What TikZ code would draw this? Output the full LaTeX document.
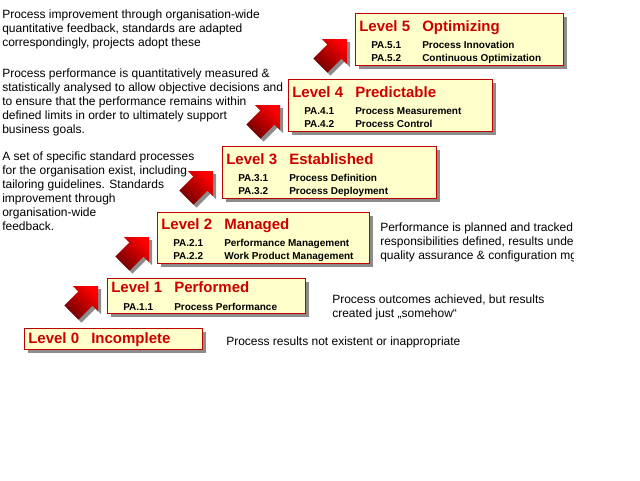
\documentclass[tikz,border=0pt]{standalone}
\usepackage{fontspec}
\setmainfont{Liberation Sans}
\usetikzlibrary{shadows}
\definecolor{boxred}{RGB}{192,0,0}
\definecolor{titlered}{RGB}{204,0,0}
\definecolor{boxfill}{RGB}{255,255,204}
\definecolor{arrowdark}{RGB}{110,0,0}
\newdimen\px \px=0.75pt

\begin{document}
\begin{tikzpicture}[x=0.75pt,y=-0.75pt,
  lvlbox/.style={draw=boxred, fill=boxfill, line width=1pt, inner sep=0, anchor=north west,
    drop shadow={shadow xshift=2.5pt, shadow yshift=-2.5pt, fill=black!45, opacity=1}},
  lvltitle/.style={anchor=base west, inner sep=0, text=titlered, font=\fontsize{11.25}{13}\selectfont\bfseries},
  pa/.style={anchor=base west, inner sep=0, font=\fontsize{7.5}{9}\selectfont\bfseries},
  desc/.style={anchor=north west, inner sep=0, align=left, font=\fontsize{9}{10.5}\selectfont},
  lvlarrow/.pic={
    \fill[black!45, shift={(3,3)}] (0,0) -- (0,25) -- (-5.4,19.6) -- (-19.5,33.7) -- (-33.7,19.5) -- (-19.6,5.4) -- (-25,0) -- cycle;
    \shade[top color=red, bottom color=arrowdark, shading angle=-45] (0,0) -- (0,25) -- (-5.4,19.6) -- (-19.5,33.7) -- (-33.7,19.5) -- (-19.6,5.4) -- (-25,0) -- cycle;
  }]
\useasboundingbox (0,0) rectangle (640,480);

\node[desc] (imp) at (2,9.5) {Process improvement through organisation-wide\\quantitative feedback, standards are adapted\\correspondingly, projects adopt these};
\node[desc] (perf) at (2,68.5) {Process performance is quantitatively measured \&\\statistically analysed to allow objective decisions and\\to ensure that the performance remains within\\defined limits in order to ultimately support\\business goals.};
\node[desc] (std) at (2,151.5) {A set of specific standard processes\\for the organisation exist, including\\tailoring guidelines. Standards\\improvement through\\organisation-wide\\feedback.};

\node[lvlbox, minimum width=208\px, minimum height=52\px] (l5) at (355,13) {};
\node[lvlbox, minimum width=204\px, minimum height=52\px] (l4) at (288,79) {};
\node[lvlbox, minimum width=214\px, minimum height=52\px] (l3) at (222,146) {};
\node[lvlbox, minimum width=212\px, minimum height=51\px] (l2) at (157,212) {};
\node[lvlbox, minimum width=198\px, minimum height=35\px] (l1) at (107,278) {};
\node[lvlbox, minimum width=178\px, minimum height=21\px] (l0) at (24,328) {};

\pic (a1) at ([shift={(-9,8)}]l1.north west) {lvlarrow};
\pic (a2) at ([shift={(-8,25)}]l2.north west) {lvlarrow};
\pic (a3) at ([shift={(-9,25)}]l3.north west) {lvlarrow};
\pic (a4) at ([shift={(-8,26)}]l4.north west) {lvlarrow};
\pic (a5) at ([shift={(-8,26)}]l5.north west) {lvlarrow};

\node[lvltitle] (l5lvl) at ([shift={(4,18)}]l5.north west) {Level 5};
\node[lvltitle] (l5name) at ([shift={(67,18)}]l5.north west) {Optimizing};
\node[pa] (l5pa1) at ([shift={(16,35)}]l5.north west) {PA.5.1};
\node[pa] (l5pa1t) at ([shift={(67,35)}]l5.north west) {Process Innovation};
\node[pa] (l5pa2) at ([shift={(16,48)}]l5.north west) {PA.5.2};
\node[pa] (l5pa2t) at ([shift={(67,48)}]l5.north west) {Continuous Optimization};

\node[lvltitle] (l4lvl) at ([shift={(4,18)}]l4.north west) {Level 4};
\node[lvltitle] (l4name) at ([shift={(67,18)}]l4.north west) {Predictable};
\node[pa] (l4pa1) at ([shift={(16,35)}]l4.north west) {PA.4.1};
\node[pa] (l4pa1t) at ([shift={(67,35)}]l4.north west) {Process Measurement};
\node[pa] (l4pa2) at ([shift={(16,48)}]l4.north west) {PA.4.2};
\node[pa] (l4pa2t) at ([shift={(67,48)}]l4.north west) {Process Control};

\node[lvltitle] (l3lvl) at ([shift={(4,18)}]l3.north west) {Level 3};
\node[lvltitle] (l3name) at ([shift={(67,18)}]l3.north west) {Established};
\node[pa] (l3pa1) at ([shift={(16,35)}]l3.north west) {PA.3.1};
\node[pa] (l3pa1t) at ([shift={(67,35)}]l3.north west) {Process Definition};
\node[pa] (l3pa2) at ([shift={(16,48)}]l3.north west) {PA.3.2};
\node[pa] (l3pa2t) at ([shift={(67,48)}]l3.north west) {Process Deployment};

\node[lvltitle] (l2lvl) at ([shift={(4,17)}]l2.north west) {Level 2};
\node[lvltitle] (l2name) at ([shift={(67,17)}]l2.north west) {Managed};
\node[pa] (l2pa1) at ([shift={(16,34)}]l2.north west) {PA.2.1};
\node[pa] (l2pa1t) at ([shift={(67,34)}]l2.north west) {Performance Management};
\node[pa] (l2pa2) at ([shift={(16,47)}]l2.north west) {PA.2.2};
\node[pa] (l2pa2t) at ([shift={(67,47)}]l2.north west) {Work Product Management};

\node[lvltitle] (l1lvl) at ([shift={(4,14)}]l1.north west) {Level 1};
\node[lvltitle] (l1name) at ([shift={(67,14)}]l1.north west) {Performed};
\node[pa] (l1pa1) at ([shift={(16,32)}]l1.north west) {PA.1.1};
\node[pa] (l1pa1t) at ([shift={(67,32)}]l1.north west) {Process Performance};

\node[lvltitle] (l0lvl) at ([shift={(4,15)}]l0.north west) {Level 0};
\node[lvltitle] (l0name) at ([shift={(67,15)}]l0.north west) {Incomplete};

\begin{scope}
\clip (370,215) rectangle (573,265);
\node[desc] (l2desc) at (380,222.5) {Performance is planned and tracked,\\responsibilities defined, results under\\quality assurance \& configuration mg};
\end{scope}
\node[desc] (l1desc) at (332,294.5) {Process outcomes achieved, but results\\created just „somehow“};
\node[desc] (l0desc) at (226,336.5) {Process results not existent or inappropriate};
\end{tikzpicture}
\end{document}
